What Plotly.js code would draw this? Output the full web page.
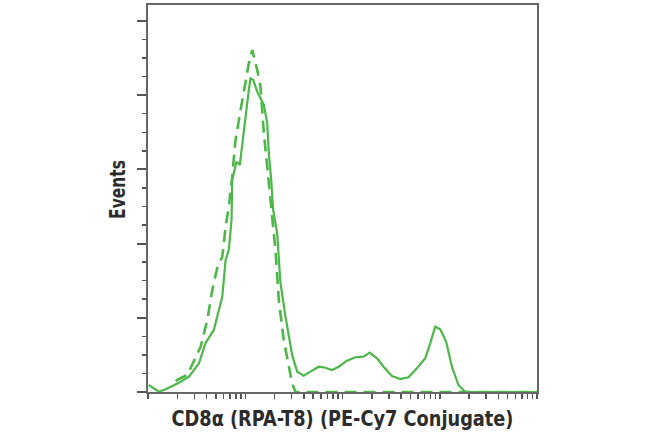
<!DOCTYPE html>
<html>
<head>
<meta charset="utf-8">
<script src="https://cdn.plot.ly/plotly-3.0.1.min.js"></script>
<style>html,body{margin:0;padding:0;background:#fff;}#chart{width:650px;height:438px;}</style>
</head>
<body>
<div id="chart"></div>
<script>
// x: log10 fluorescence (decades), y: events (major tick units)
const solidX = [0.007,0.113,0.182,0.318,0.421,0.524,0.592,0.677,0.764,0.798,0.831,0.859,0.866,0.883,0.910,0.944,0.985,1.037,1.054,1.082,1.123,1.157,1.191,1.226,1.242,1.267,1.287,1.328,1.362,1.414,1.431,1.482,1.534,1.601,1.670,1.755,1.807,1.893,1.961,2.047,2.132,2.217,2.279,2.355,2.422,2.509,2.594,2.679,2.765,2.851,2.902,2.953,3.005,3.066,3.125,3.192,3.261,3.313,4.0];
const solidY = [0.094,0.004,0.036,0.125,0.206,0.386,0.660,0.836,1.285,1.779,1.914,2.318,2.857,2.951,3.104,3.059,3.531,4.070,4.228,4.205,4.047,3.958,3.868,3.625,3.221,2.857,2.453,2.143,1.469,1.015,0.880,0.500,0.274,0.220,0.274,0.341,0.333,0.296,0.341,0.422,0.468,0.476,0.530,0.454,0.341,0.216,0.175,0.198,0.319,0.454,0.656,0.880,0.845,0.678,0.341,0.094,0.004,0.0,0.0];
const dashX = [0.284,0.318,0.404,0.490,0.541,0.610,0.661,0.712,0.764,0.798,0.831,0.866,0.900,0.952,1.037,1.072,1.123,1.157,1.191,1.226,1.259,1.277,1.311,1.345,1.396,1.482,1.516,4.0];
const dashY = [0.148,0.175,0.229,0.476,0.610,0.970,1.375,1.671,1.823,2.228,2.497,2.902,3.396,3.800,4.430,4.609,4.340,4.115,3.491,3.036,2.632,2.318,1.914,1.240,0.701,0.117,0.0,0.0];
const xTitle = "CD8\u03b1 (RPA-T8) (PE-Cy7 Conjugate)";
const yTitle = "Events";

const green = "#4cb848";
const xt = [];
for (let d = 0; d < 4; d++) { for (let k = 1; k <= 9; k++) xt.push(d + Math.log10(k)); }
xt.push(4);

const titleFont = {family: "'Liberation Sans Narrow','Arial Narrow','DejaVu Sans Condensed',sans-serif", size: 21, color: "#2b2b2b", weight: 700};

const traces = [
  {x: dashX, y: dashY, mode: "lines", line: {color: green, width: 2.6, dash: "12px,7px"}, hoverinfo: "skip"},
  {x: solidX, y: solidY, mode: "lines", line: {color: green, width: 2.2}, hoverinfo: "skip"}
];
const layout = {
  width: 650, height: 438,
  margin: {l: 147.5, r: 113, t: 5, b: 46},
  paper_bgcolor: "#fff", plot_bgcolor: "#fff",
  showlegend: false,
  xaxis: {
    range: [0, 4], showgrid: false, zeroline: false,
    showline: true, linecolor: "#666", linewidth: 2, mirror: true,
    tickmode: "array", tickvals: xt, showticklabels: false,
    ticks: "outside", ticklen: 5, tickwidth: 1.5, tickcolor: "#555",
    title: {text: "<b>" + xTitle + "</b>", font: titleFont, standoff: 13}
  },
  yaxis: {
    range: [0, 5.215], showgrid: false, zeroline: false,
    showline: true, linecolor: "#666", linewidth: 2, mirror: true,
    dtick: 1, showticklabels: false,
    ticks: "outside", ticklen: 9, tickwidth: 2, tickcolor: "#555",
    minor: {dtick: 0.25, ticks: "outside", ticklen: 4, tickwidth: 1.5, tickcolor: "#555"},
    title: {text: "<b>" + yTitle + "</b>", font: titleFont, standoff: 6}
  }
};
Plotly.newPlot("chart", traces, layout, {displayModeBar: false, staticPlot: true}).then(function (gd) {
  // condense title glyphs horizontally to mimic a narrow bold face
  function squeeze(sel, sx, extra) {
    const t = gd.querySelector(sel);
    if (!t) return;
    const x = parseFloat(t.getAttribute("x")), y = parseFloat(t.getAttribute("y"));
    const base = t.getAttribute("transform") || "";
    t.setAttribute("transform", base + " " + (extra || "") + " translate(" + x + "," + y + ") scale(" + sx + ",1) translate(" + (-x) + "," + (-y) + ")");
  }
  squeeze(".xtitle", 0.94, "");
  squeeze(".ytitle", 0.82, "translate(9,0)");
});
</script>
</body>
</html>
